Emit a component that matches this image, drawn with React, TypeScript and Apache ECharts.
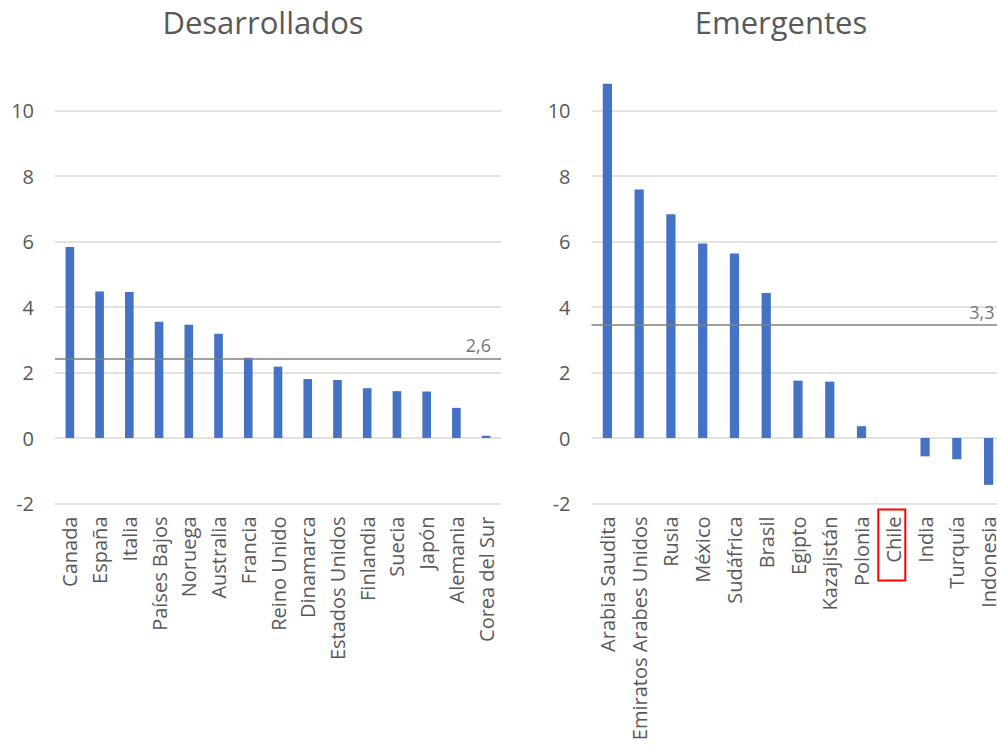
import React, { useEffect, useRef } from "react";
import * as echarts from "echarts";

const devCategories = [
  "Canada", "España", "Italia", "Países Bajos", "Noruega", "Australia", "Francia",
  "Reino Unido", "Dinamarca", "Estados Unidos", "Finlandia", "Suecia", "Japón", "Alemania", "Corea del Sur",
];
const devValues = [5.83, 4.47, 4.46, 3.55, 3.46, 3.18, 2.45, 2.18, 1.8, 1.77, 1.52, 1.43, 1.42, 0.92, 0.07];

const emCategories = [
  "Arabia Saudita", "Emiratos Arabes Unidos", "Rusia", "México", "Sudáfrica", "Brasil", "Egipto",
  "Kazajistán", "Polonia", "Chile", "India", "Turquía", "Indonesia",
];
const emValues = [10.82, 7.59, 6.83, 5.94, 5.63, 4.43, 1.75, 1.72, 0.36, null, -0.56, -0.65, -1.43];

const devAverageLine = 2.43;
const devAverageLabel = "2,6";
const emAverageLine = 3.45;
const emAverageLabel = "3,3";

const titles = ["Desarrollados", "Emergentes"];
const highlighted = "Chile";

const yTicks = { min: -2, max: 10, interval: 2 };

const FONT = "'Open Sans', 'Noto Sans', sans-serif";
const TEXT = "#595959";

export default function App() {
  const ref = useRef<HTMLDivElement>(null);

  useEffect(() => {
    if (!ref.current) return;
    const chart = echarts.init(ref.current, undefined, { renderer: "svg" });

    const mkY = (gridIndex: number) => ({
      type: "value",
      gridIndex,
      min: yTicks.min,
      max: yTicks.max,
      interval: yTicks.interval,
      axisLine: { show: false },
      axisTick: { show: false },
      axisLabel: { fontSize: 20, color: TEXT, margin: 21, fontFamily: FONT },
      splitLine: { lineStyle: { color: "#d9d9d9", width: 1.5 } },
    });
    const mkX = (gridIndex: number, data: string[]) => ({
      type: "category",
      gridIndex,
      data,
      axisLine: { show: false, onZero: false },
      axisTick: { show: false },
      axisLabel: { rotate: 90, interval: 0, fontSize: 20, color: TEXT, margin: 13, fontFamily: FONT },
      splitLine: { show: false },
    });
    const mkBar = (idx: number, data: (number | null)[], avg: number, avgLabel: string) => ({
      type: "bar",
      xAxisIndex: idx,
      yAxisIndex: idx,
      data,
      barWidth: "29%",
      clip: false,
      itemStyle: { color: "#4472C4" },
      markLine: {
        silent: true,
        symbol: "none",
        data: [{ yAxis: avg }],
        lineStyle: { color: "#808080", width: 1.5, type: "solid" },
        label: {
          position: "insideEndTop",
          formatter: avgLabel,
          color: "#767676",
          fontSize: 18,
          fontFamily: FONT,
          distance: [10, 4],
        },
      },
    });

    chart.setOption({
      animation: false,
      backgroundColor: "#ffffff",
      grid: [
        { left: 55, top: 110.5, width: 446, height: 393 },
        { left: 591.5, top: 110.5, width: 413, height: 393 },
      ],
      xAxis: [mkX(0, devCategories), mkX(1, emCategories)],
      yAxis: [mkY(0), mkY(1)],
      series: [
        mkBar(0, devValues, devAverageLine, devAverageLabel),
        mkBar(1, emValues, emAverageLine, emAverageLabel),
      ],
    });

    const cx = chart.convertToPixel({ xAxisIndex: 1 } as any, highlighted) as unknown as number;
    const bottom = chart.convertToPixel({ yAxisIndex: 1 } as any, yTicks.min) as unknown as number;
    chart.setOption({
      graphic: [
        {
          id: "t0", type: "text", x: 263, y: 22,
          style: { text: titles[0], align: "center", verticalAlign: "middle", fontSize: 31, fill: TEXT, fontFamily: FONT },
        },
        {
          id: "t1", type: "text", x: 781, y: 22,
          style: { text: titles[1], align: "center", verticalAlign: "middle", fontSize: 31, fill: TEXT, fontFamily: FONT },
        },
        {
          id: "box", type: "rect",
          shape: { x: cx - 15, y: bottom + 6, width: 27, height: 71 },
          style: { fill: "none", stroke: "#ff0000", lineWidth: 2 },
        },
      ],
    });

    return () => chart.dispose();
  }, []);

  return (
    <div style={{ position: "fixed", left: 0, top: 0, width: 997, height: 749, overflow: "hidden", background: "#fff" }}>
      <div ref={ref} style={{ width: 1006, height: 749 }} />
    </div>
  );
}
